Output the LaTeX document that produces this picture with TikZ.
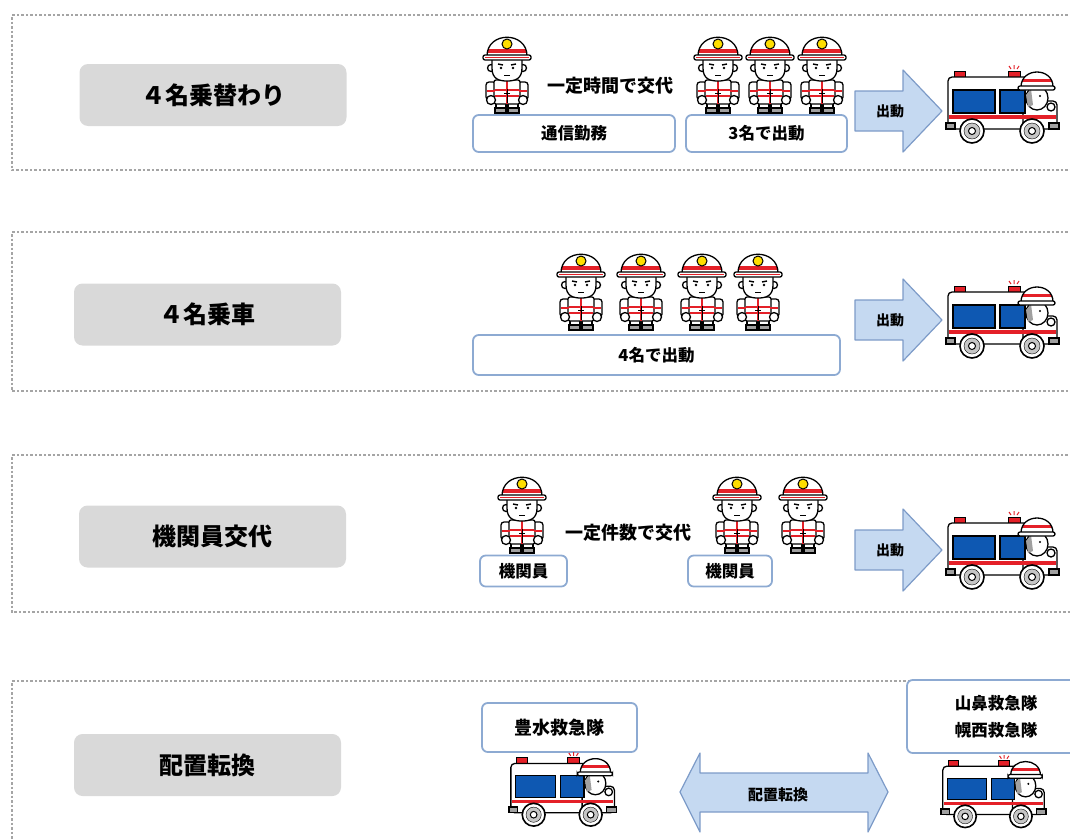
\documentclass[tikz,border=0pt]{standalone}
\usepackage{fontspec}
\setmainfont{Noto Sans CJK JP}
\definecolor{panelGray}{RGB}{165,165,165}
\definecolor{labelGray}{RGB}{217,217,217}
\definecolor{boxBlue}{RGB}{141,170,210}
\definecolor{arrowFill}{RGB}{197,217,241}
\definecolor{arrowLine}{RGB}{125,155,200}
\definecolor{suitRed}{RGB}{228,32,40}
\definecolor{windowBlue}{RGB}{14,88,178}
\definecolor{badgeYellow}{RGB}{255,222,0}
\definecolor{bootGray}{RGB}{160,160,160}
\tikzstyle{panelLine} = [color=panelGray, line width=1.6pt, dash pattern=on 2.5pt off 2pt]
\tikzstyle{modeLabel} = [fill=labelGray, rounded corners=.3cm, minimum width=267pt, minimum height=62pt, font=\fontsize{24}{26}\selectfont\bfseries]
\tikzstyle{infoBox} = [draw=boxBlue, line width=1.8pt, fill=white, rounded corners=.2cm, align=center, font=\fontsize{16.5}{27}\selectfont\bfseries]
\tikzstyle{noteText} = [font=\fontsize{18}{20}\selectfont\bfseries]
\tikzstyle{blockArrow} = [draw=arrowLine, fill=arrowFill, line width=1.2pt, line join=round]
\tikzstyle{arrowText} = [font=\fontsize{14}{16}\selectfont\bfseries]
\tikzstyle{outline} = [draw=black, fill=white, line width=1.3pt]
% one crew member, feet at (#1,#2)
\newcommand{\fireFighter}[2]{
  \begin{scope}[shift={(#1,#2)}]
    \filldraw [outline, fill=bootGray] (-12,-5) rectangle (-1,0);
    \filldraw [outline, fill=bootGray] (1,-5) rectangle (12,0);
    \filldraw [outline] (-11,-10) rectangle (-1,-5);
    \filldraw [outline] (1,-10) rectangle (11,-5);
    \filldraw [outline, rounded corners=3pt] (-21,-31) rectangle (-11,-13);
    \filldraw [outline, rounded corners=3pt] (11,-31) rectangle (21,-13);
    \filldraw [outline, rounded corners=2pt] (-13,-33) rectangle (13,-9);
    \draw [suitRed, line width=1.4pt] (-12,-23) -- (12,-23) (-12,-17) -- (12,-17) (-20,-22) -- (-12,-22) (12,-22) -- (20,-22);
    \draw [suitRed, line width=1.6pt] (0,-33) -- (0,-9);
    \draw [line width=1pt] (0,-24) -- (0,-10) (-3,-20) -- (3,-20);
    \filldraw [outline] (-16,-13) circle (4.5);
    \filldraw [outline] (16,-13) circle (4.5);
    \filldraw [outline] (-16,-45) circle (3.5);
    \filldraw [outline] (16,-45) circle (3.5);
    \filldraw [outline] (-15,-55) -- (-15,-45) .. controls (-15,-34) and (-8,-32) .. (0,-32) .. controls (8,-32) and (15,-34) .. (15,-45) -- (15,-55) -- cycle;
    \draw [line width=1.4pt] (-9,-49) -- (-4,-48) (9,-49) -- (4,-48);
    \fill (-6,-45) circle (1.3) (6,-45) circle (1.3);
    \draw [line width=1pt] (-3,-38) -- (3,-38);
    \begin{scope}
      \clip (-20,-57) .. controls (-20,-82) and (20,-82) .. (20,-57) -- cycle;
      \fill [white] (-21,-82) rectangle (21,-57);
      \fill [suitRed] (-21,-64) rectangle (21,-60);
    \end{scope}
    \draw [line width=1.3pt] (-20,-57) .. controls (-20,-82) and (20,-82) .. (20,-57);
    \filldraw [outline, rounded corners=2pt] (-24,-58) rectangle (24,-53);
    \draw [suitRed, line width=1.2pt] (-22,-55.5) -- (22,-55.5);
    \filldraw [outline, fill=badgeYellow, line width=1pt] (0,-69) circle (5);
  \end{scope}
}
% ambulance, top left corner at (#1,#2), scaled by #3
\newcommand{\ambulance}[3]{
  \begin{scope}[shift={(#1,#2)}, scale=#3]
    \filldraw [outline, fill=suitRed, line width=1pt] (9,6) rectangle (20,12);
    \filldraw [outline, fill=suitRed, line width=1pt] (63,6) rectangle (75,12);
    \draw [suitRed, line width=1pt] (69,0) -- (69,4) (64,1) -- (66,4) (74,1) -- (72,4);
    \filldraw [outline, rounded corners=4pt] (3,12) rectangle (84,64);
    \filldraw [outline, rounded corners=4pt] (78,36) rectangle (112,64);
    \filldraw [outline, fill=windowBlue] (8,25) rectangle (50,48);
    \filldraw [outline, fill=windowBlue] (55,25) rectangle (80,48);
    \fill [suitRed] (4,50) rectangle (111,54);
    \filldraw [outline, fill=bootGray] (1,58) rectangle (10,64);
    \filldraw [outline, fill=bootGray] (104,58) rectangle (114,64);
    % driver
    \filldraw [outline] (92,33) ellipse (11 and 12);
    \fill [bootGray] (81,30) -- (86,24) -- (88,40) -- (83,42) -- cycle;
    \fill (95,31) circle (1.2);
    \filldraw [outline] (106,42) circle (4);
    \begin{scope}
      \clip (76,22) .. controls (76,2) and (108,2) .. (108,22) -- cycle;
      \fill [white] (75,2) rectangle (109,22);
      \fill [suitRed] (75,14) rectangle (109,17);
    \end{scope}
    \draw [line width=1.3pt] (76,22) .. controls (76,2) and (108,2) .. (108,22);
    \filldraw [outline, rounded corners=2pt] (73,21) rectangle (110,25);
    % wheels
    \foreach \wheelX in {27,87} {
      \filldraw [outline, line width=1.6pt] (\wheelX,66) circle (12);
      \filldraw [fill=bootGray!60, draw=black] (\wheelX,66) circle (8);
      \filldraw [outline, line width=1pt] (\wheelX,66) circle (3.5);
    }
  \end{scope}
}
% dispatch arrow, left end at (#1,#2)
\newcommand{\goArrow}[3]{
  \filldraw [blockArrow] (#1,#2-20) -- (#1+48,#2-20) -- (#1+48,#2-41) -- (#1+87,#2) -- (#1+48,#2+41) -- (#1+48,#2+20) -- (#1,#2+20) -- cycle;
  \node [arrowText] (#3) at (#1+35,#2) {出動};
}

\begin{document}
\begin{tikzpicture}[x=1pt, y=-1pt]
  \useasboundingbox (0,0) rectangle (1070,839);
  \clip (0,0) rectangle (1070,839);
  \foreach \panelTop/\panelBottom in {15/170, 232/391, 455/612, 681/900} {
    \draw [panelLine] (1090,\panelTop) -- (12,\panelTop) -- (12,\panelBottom) -- (1090,\panelBottom);
  }

  % 4 crew, rotating
  \node [modeLabel] (rotateLabel) at (213,95) {４名乗替わり};
  \fireFighter{507}{113}
  \node [noteText] (rotateNote) at (610,86) {一定時間で交代};
  \foreach \crewX in {718,770,822} {\fireFighter{\crewX}{113}}
  \node [infoBox, minimum width=202pt, minimum height=37pt] (commBox) at (574,133.5) {通信勤務};
  \node [infoBox, minimum width=161pt, minimum height=37pt] (threeBox) at (766.5,133.5) {3名で出動};
  \goArrow{855}{111}{goOne}
  \ambulance{945}{65}{1}

  % 4 crew on board
  \node [modeLabel] (boardLabel) at (207.5,314.5) {４名乗車};
  \foreach \crewX in {581,641,702,758} {\fireFighter{\crewX}{330}}
  \node [infoBox, minimum width=367pt, minimum height=40pt] (fourBox) at (656.5,355) {4名で出動};
  \goArrow{855}{320}{goTwo}
  \ambulance{945}{280}{1}

  % driver swap
  \node [modeLabel] (driverLabel) at (212.5,536.5) {機関員交代};
  \fireFighter{522}{553}
  \node [noteText] (driverNote) at (628,533) {一定件数で交代};
  \fireFighter{737}{553}
  \fireFighter{803}{553}
  \node [infoBox, minimum width=87pt, minimum height=31pt] (driverBoxA) at (523.5,571) {機関員};
  \node [infoBox, minimum width=84pt, minimum height=31pt] (driverBoxB) at (730,571) {機関員};
  \goArrow{855}{550}{goThree}
  \ambulance{945}{511}{1}

  % relocation
  \node [modeLabel] (moveLabel) at (207.5,765) {配置転換};
  \node [infoBox, minimum width=155pt, minimum height=49pt, font=\fontsize{18}{20}\selectfont\bfseries] (houBox) at (559.5,727.5) {豊水救急隊};
  \node [infoBox, minimum width=178pt, minimum height=73pt] (yamaBox) at (996,716.5) {山鼻救急隊\\幌西救急隊};
  \ambulance{508}{752}{.95}
  \ambulance{940}{755}{.93}
  \filldraw [blockArrow] (680,792) -- (700,753) -- (700,773) -- (868,773) -- (868,753) -- (888,792) -- (868,832) -- (868,812) -- (700,812) -- (700,832) -- cycle;
  \node [arrowText, font=\fontsize{15}{17}\selectfont\bfseries] (moveNote) at (778,795) {配置転換};
\end{tikzpicture}
\end{document}
